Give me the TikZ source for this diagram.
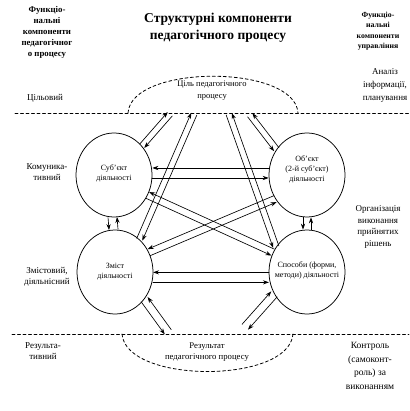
\documentclass[tikz,border=0pt]{standalone}
\usepackage{fontspec}
\setmainfont{Liberation Serif}
\usetikzlibrary{calc,shapes.geometric,arrows.meta}

\begin{document}
\begin{tikzpicture}[x=1pt, y=-1pt, line join=round, line cap=round, >={Stealth[length=6pt,width=4.2pt]}]
	\tikzset{every node/.style={inner sep=0pt, align=center},
		comp/.style={draw, ellipse, minimum width=76pt, minimum height=84pt, line width=0.75pt},
		ctext/.style={font=\fontsize{8}{10}\selectfont},
		lev/.style={font=\fontsize{9}{11.5}\selectfont},
		hdr/.style={font=\bfseries\fontsize{8.8}{11}\selectfont},
		dline/.style={line width=0.8pt, dash pattern=on 3pt off 2.5pt},
		link/.style={->, line width=0.65pt}}
	\useasboundingbox (0,0) rectangle (409,411);
	% headings
	\node[font=\bfseries\fontsize{13.5}{17}\selectfont] (title) at (218,28) {Структурні компоненти\\педагогічного процесу};
	\node[hdr] (fleft) at (47,32) {Функціо-\\нальні\\компоненти\\педагогічног\\о процесу};
	\node[hdr, font=\bfseries\fontsize{7.8}{10.5}\selectfont] (fright) at (378,31) {Функціо-\\нальні\\компоненти\\управління};
	% levels
	\node[lev] (lgoal) at (45,98) {Цільовий};
	\node[lev, font=\fontsize{9}{13}\selectfont] (rgoal) at (385,85) {Аналіз\\інформації,\\планування};
	\node[lev] (lcomm) at (47,172) {Комуника-\\тивний};
	\node[lev] (lact) at (47,277) {Змістовий,\\діяльнісний};
	\node[lev] (rorg) at (378,227) {Організація\\виконання\\прийнятих\\рішень};
	\node[lev] (lres) at (43,351) {Результа-\\тивний};
	\node[lev, font=\fontsize{9.5}{13.5}\selectfont] (rctrl) at (370,366) {Контроль\\(самоконт-\\роль) за\\виконанням};
	% borders of the levels
	\draw[dline] (15,113) -- (409,113);
	\draw[dline] (128,113) .. controls (131,64) and (295,64) .. (298,113);
	\draw[dline] (12,334) -- (409,334);
	\draw[dline] (122,334) .. controls (126,384) and (289,384) .. (293,334);
	\node[font=\fontsize{8.5}{12}\selectfont] (goal) at (212,91) {Ціль педагогічного\\процесу};
	\node[font=\fontsize{8.7}{11}\selectfont] (result) at (207,352) {Результат\\педагогічного процесу};
	% components
	\node[comp] (subject) at (114,175) {};
	\node[comp] (object) at (307,175) {};
	\node[comp] (content) at (115,272) {};
	\node[comp] (methods) at (307,272) {};
	\node[ctext, yshift=2pt] at (subject) {Суб’єкт\\діяльності};
	\node[ctext, yshift=6pt] at (object) {Об’єкт\\(2-й суб’єкт)\\діяльності};
	\node[ctext] at (content) {Зміст\\діяльності};
	\node[ctext, yshift=2pt] at (methods) {Способи (форми,\\методи) діяльності};
	\coordinate (goalA) at (170,114);
	\coordinate (goalB) at (194,114);
	\coordinate (goalC) at (229,114);
	\coordinate (goalD) at (250,115);
	\coordinate (resA) at (168,332);
	\coordinate (resB) at (245,327);
	% two-way links
	\foreach \a/\b/\s in {subject.46/goalA/3, content.53/goalB/3, methods.141/goalC/-3, object.140/goalD/-3,
		subject.3/object.177/-5, content.-8/methods.188/-5, subject.-92/content.92/-4.5, object.-90/methods.90/-4,
		subject.-31/methods.150/-3.5, content.30/object.217/-3.5, content.-43/resA/-4, methods.214/resB/4}
	{
		\draw[link] ($(\a)!\s pt!90:(\b)$) -- ($(\b)!\s pt!-90:(\a)$);
		\draw[link] ($(\b)!\s pt!90:(\a)$) -- ($(\a)!\s pt!-90:(\b)$);
	}
\end{tikzpicture}
\end{document}
